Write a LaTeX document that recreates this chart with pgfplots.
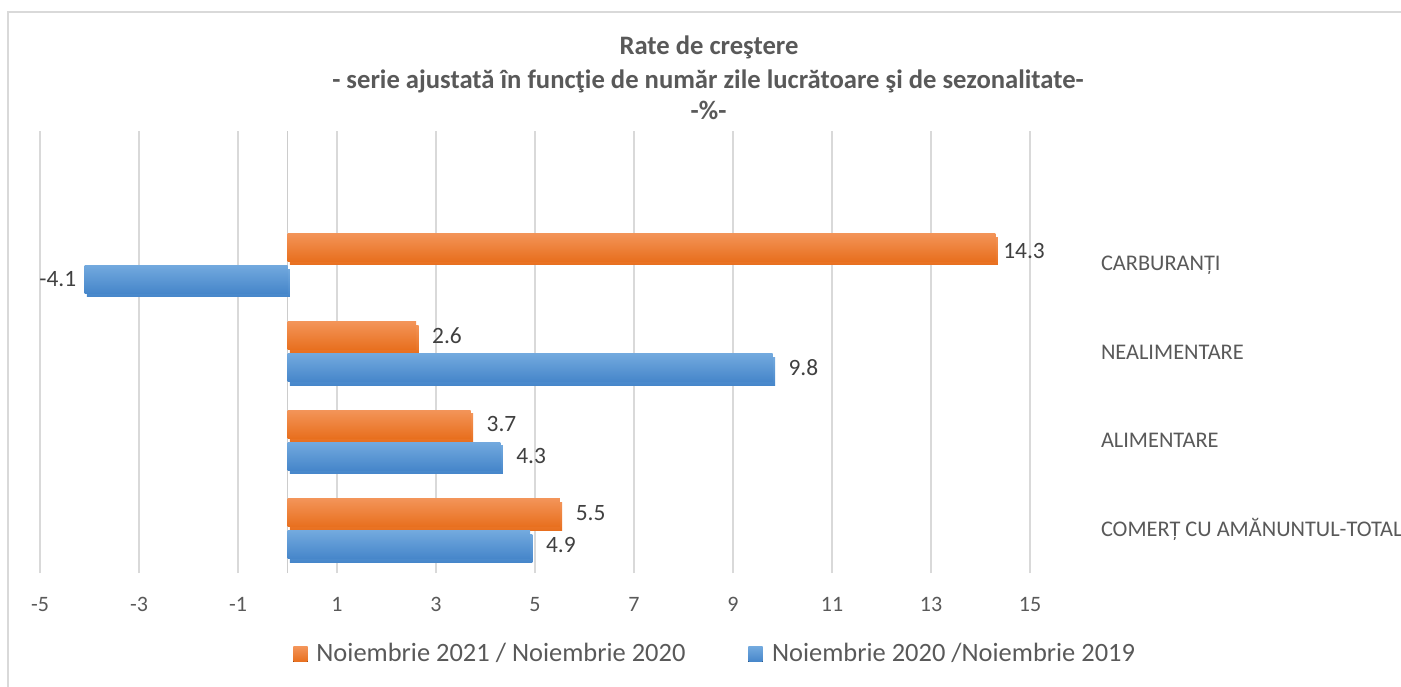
\documentclass[border=0pt]{standalone}
\usepackage{pgfplots}
\pgfplotsset{compat=1.18}
\usepackage{fontspec}
\setmainfont{Carlito}
\definecolor{txt}{HTML}{595959}
\definecolor{lbl}{HTML}{404040}
\definecolor{grd}{HTML}{D9D9D9}
\definecolor{orT}{HTML}{F39458}
\definecolor{orB}{HTML}{E86F1E}
\definecolor{blT}{HTML}{72A9DE}
\definecolor{blB}{HTML}{4686CA}
\newlength\mw
% #1 macro, #2 font switches, #3 sample text, #4 target width in bp
\newcommand\fitsize[4]{%
  \settowidth\mw{#2\fontsize{10bp}{12bp}\selectfont #3}%
  \pgfmathsetmacro#1{10*#4*1.00375/\mw}}
\begin{document}%
\fitsize\ttlsize{\bfseries}{Rate de creştere}{89.5}%
\fitsize\catsize{}{CARBURANȚI}{59.8}%
\fitsize\legsize{}{Noiembrie 2021 / Noiembrie 2020}{184.5}%
\fitsize\lblsize{}{14.3}{20.75}%
\fitsize\ticksize{}{15}{11.15}%
\begin{tikzpicture}
\useasboundingbox (0,0) rectangle (700.5bp,343.5bp);
\draw[color=grd, line width=0.6bp] (4bp,-5bp) -- (4bp,337.5bp) -- (710bp,337.5bp);
\begin{scope}[every node/.style={anchor=base, text=txt, inner sep=0,
    font=\bfseries\fontsize{\ttlsize bp}{20bp}\selectfont}]
\node at (354.5bp,316.35bp) {Rate de creştere};
\node at (354bp,299.35bp) {- serie ajustată în funcţie de număr zile lucrătoare şi de sezonalitate-};
\node at (354.3bp,283.5bp) {-\%-};
\end{scope}
% legend
\fill[top color=orT, bottom color=orB] (146.65bp,12.65bp) rectangle (153.85bp,20.15bp);
\node[anchor=base west, inner sep=0, text=txt, font=\fontsize{\legsize bp}{16bp}\selectfont] (l1) at (158bp,12.65bp) {Noiembrie 2021 / Noiembrie 2020};
\fill[top color=blT, bottom color=blB] ([xshift=31.25bp]l1.east |- 0,12.65bp) rectangle ++(7.2bp,7.5bp);
\node[anchor=base west, inner sep=0, text=txt, font=\fontsize{\legsize bp}{16bp}\selectfont] at ([xshift=42.9bp]l1.east |- 0,12.65bp) {Noiembrie 2020 /Noiembrie 2019};
\begin{axis}[
  at={(20bp,57bp)}, anchor=south west,
  scale only axis, width=495bp, height=221.2bp,
  xmin=-5, xmax=15, ymin=-0.5, ymax=4.5,
  xtick={-5,-3,...,15},
  ytick={0,1,2,3},
  yticklabels={COMERȚ CU AMĂNUNTUL-TOTAL, ALIMENTARE, NEALIMENTARE, CARBURANȚI},
  yticklabel pos=right,
  yticklabel style={anchor=base west, inner sep=0, xshift=35.3bp, yshift=-3.75bp,
    font=\fontsize{\catsize bp}{13bp}\selectfont, text=txt},
  xticklabel style={anchor=base, inner sep=0, yshift=-19.35bp,
    font=\fontsize{\ticksize bp}{13bp}\selectfont, text=txt},
  /pgf/number format/assume math mode=true,
  major tick length=0pt,
  axis line style={draw=none},
  xmajorgrids, grid style={color=grd, line width=0.75bp},
  extra x ticks={0}, extra x tick labels={},
  extra x tick style={grid style={color=grd!85!gray, line width=0.75bp}},
  xbar, bar width=13.9bp,
  nodes near coords={\pgfplotspointmeta},
  point meta=explicit symbolic,
  ob/.style={draw=none, top color=orT, bottom color=orB, bar shift=8bp,
    preaction={fill=black!18, transform canvas={shift={(1.2bp,-1.8bp)}}},
    nodes near coords style={anchor=west, font=\fontsize{\lblsize bp}{13bp}\selectfont, text=lbl,
    inner xsep=7.8bp, inner ysep=0pt}},
  bb/.style={draw=none, top color=blT, bottom color=blB, bar shift=-8bp,
    preaction={fill=black!18, transform canvas={shift={(1.2bp,-1.8bp)}}},
    nodes near coords style={anchor=west, font=\fontsize{\lblsize bp}{13bp}\selectfont, text=lbl,
    inner xsep=7.8bp, inner ysep=0pt}},
]
% Noiembrie 2021 / Noiembrie 2020
\addplot[ob] coordinates {(5.5,0) [5.5]};
\addplot[ob] coordinates {(3.7,1) [3.7]};
\addplot[ob] coordinates {(2.6,2) [2.6]};
\addplot[ob, nodes near coords style={inner xsep=3.8bp, yshift=-2bp}] coordinates {(14.3,3) [14.3]};
% Noiembrie 2020 / Noiembrie 2019
\addplot[bb] coordinates {(4.9,0) [4.9]};
\addplot[bb] coordinates {(4.3,1) [4.3]};
\addplot[bb] coordinates {(9.8,2) [9.8]};
\addplot[bb, nodes near coords style={anchor=east, inner xsep=4bp}] coordinates {(-4.1,3) [-4.1]};
\end{axis}
\end{tikzpicture}
\end{document}
